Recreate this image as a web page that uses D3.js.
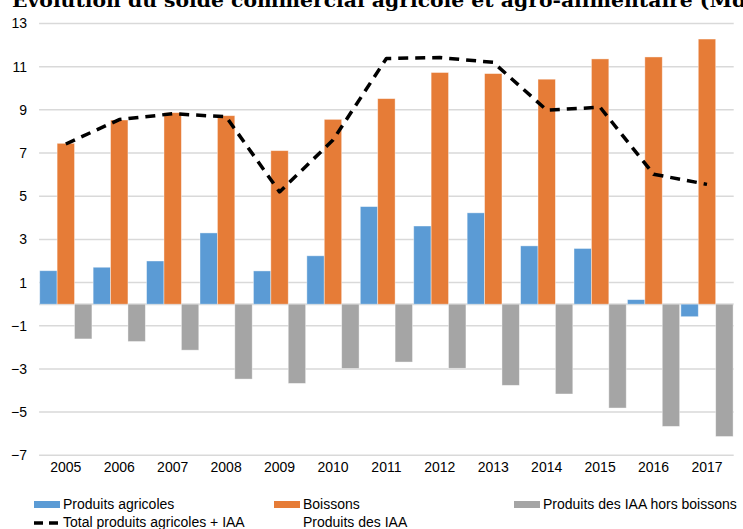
<!DOCTYPE html>
<html>
<head>
<meta charset="utf-8">
<script src="https://cdn.jsdelivr.net/npm/d3@7"></script>
<style>
  html, body { margin: 0; padding: 0; background: #fff; overflow: hidden; }
  svg { display: block; }
</style>
</head>
<body>
<svg id="chart" width="743" height="529"></svg>
<script>
const years = ["2005","2006","2007","2008","2009","2010","2011","2012","2013","2014","2015","2016","2017"];
const produitsAgricoles = [1.55, 1.71, 2.0, 3.30, 1.54, 2.24, 4.52, 3.62, 4.23, 2.70, 2.58, 0.21, -0.58];
const boissons = [7.45, 8.53, 8.87, 8.73, 7.11, 8.56, 9.52, 10.73, 10.68, 10.42, 11.36, 11.45, 12.28];
const iaaHorsBoissons = [-1.61, -1.73, -2.13, -3.47, -3.67, -2.98, -2.68, -2.97, -3.76, -4.16, -4.81, -5.66, -6.13];
const totalAgriIAA = [7.42, 8.55, 8.82, 8.68, 5.2, 7.6, 11.38, 11.42, 11.2, 8.99, 9.12, 6.02, 5.55];
const yTicks = [13, 11, 9, 7, 5, 3, 1, -1, -3, -5, -7];
const titleText = "Evolution du solde commercial agricole et agro-alimentaire (Md€)";
const seriesNames = ["Produits agricoles", "Boissons", "Produits des IAA hors boissons", "Total produits agricoles + IAA", "Produits des IAA"];
const colors = { agri: "#5B9BD5", boissons: "#E67C37", iaa: "#A5A5A5" };

const svg = d3.select("#chart");
const mLeft = 39.1, mRight = 733.7, mTop = 23.5, mBottom = 455.3;

const x = d3.scaleBand().domain(years).range([mLeft, mRight]).paddingInner(0).paddingOuter(0);
const y = d3.scaleLinear().domain([-7, 13]).range([mBottom, mTop]);
const sub = d3.scaleBand().domain(["agri","boissons","iaa"]).range([0, x.bandwidth()]).paddingOuter(0.035);

// title
svg.append("text")
  .attr("x", 12).attr("y", 7)
  .attr("font-family", "DejaVu Serif")
  .attr("font-weight", "bold")
  .attr("font-size", 19)
  .attr("textLength", 758)
  .attr("lengthAdjust", "spacingAndGlyphs")
  .attr("fill", "#000")
  .text(titleText);

// gridlines
svg.append("g").selectAll("line").data(yTicks.concat([0])).join("line")
  .attr("x1", mLeft).attr("x2", mRight)
  .attr("y1", d => y(d)).attr("y2", d => y(d))
  .attr("stroke", "#D9D9D9").attr("stroke-width", d => d === 0 ? 2 : 1.5);

// y axis labels
const yAxis = d3.axisLeft(y).tickValues(yTicks).tickSize(0).tickPadding(0).tickFormat(d3.format("d"));
const gy = svg.append("g").attr("transform", "translate(27,0)").call(yAxis);
gy.select(".domain").remove();
gy.selectAll("text").attr("font-family", "Liberation Sans, Arial, sans-serif").attr("font-size", 14).attr("fill", "#000");

// x axis labels
const xAxis = d3.axisBottom(x).tickSize(0).tickPadding(0);
const gx = svg.append("g").attr("transform", "translate(0,462)").call(xAxis);
gx.select(".domain").remove();
gx.selectAll("text").attr("font-family", "Liberation Sans, Arial, sans-serif").attr("font-size", 14).attr("fill", "#000");

// bars
const series = [
  { key: "agri", values: produitsAgricoles },
  { key: "boissons", values: boissons },
  { key: "iaa", values: iaaHorsBoissons }
];
const gb = svg.append("g");
series.forEach(s => {
  gb.selectAll("rect." + s.key).data(s.values).join("rect")
    .attr("class", s.key)
    .attr("x", (d, i) => x(years[i]) + sub(s.key))
    .attr("width", sub.bandwidth())
    .attr("y", d => y(Math.max(0, d)))
    .attr("height", d => Math.abs(y(d) - y(0)))
    .attr("fill", colors[s.key])
    .attr("stroke", "#fff").attr("stroke-opacity", 0.5).attr("stroke-width", 0.8);
});

// total line
const line = d3.line()
  .x((d, i) => x(years[i]) + x.bandwidth() / 2)
  .y(d => y(d));
svg.append("path")
  .datum(totalAgriIAA)
  .attr("d", line)
  .attr("fill", "none")
  .attr("stroke", "#000")
  .attr("stroke-width", 3.5)
  .attr("stroke-dasharray", "10,7")
  .attr("stroke-linejoin", "round");

// legend
const lg = svg.append("g").attr("font-family", "Liberation Sans, Arial, sans-serif").attr("font-size", 14).attr("fill", "#000");
const legendItems = [
  { name: seriesNames[0], type: "rect", color: colors.agri, sx: 34, ty: 509, sy: 501 },
  { name: seriesNames[1], type: "rect", color: colors.boissons, sx: 274, ty: 509, sy: 501 },
  { name: seriesNames[2], type: "rect", color: colors.iaa, sx: 514, ty: 509, sy: 501 },
  { name: seriesNames[3], type: "line", color: "#000", sx: 34, ty: 527, sy: 523 },
  { name: seriesNames[4], type: "none", color: "none", sx: 274, ty: 527, sy: 523 }
];
legendItems.forEach(it => {
  if (it.type === "rect") {
    lg.append("rect").attr("x", it.sx).attr("y", it.sy).attr("width", 26).attr("height", 7).attr("fill", it.color);
  } else if (it.type === "line") {
    lg.append("line").attr("x1", it.sx).attr("x2", it.sx + 26).attr("y1", it.sy).attr("y2", it.sy)
      .attr("stroke", "#000").attr("stroke-width", 3.5).attr("stroke-dasharray", "9,6");
  }
  lg.append("text").attr("x", it.sx + 29).attr("y", it.ty).text(it.name);
});
</script>
</body>
</html>
